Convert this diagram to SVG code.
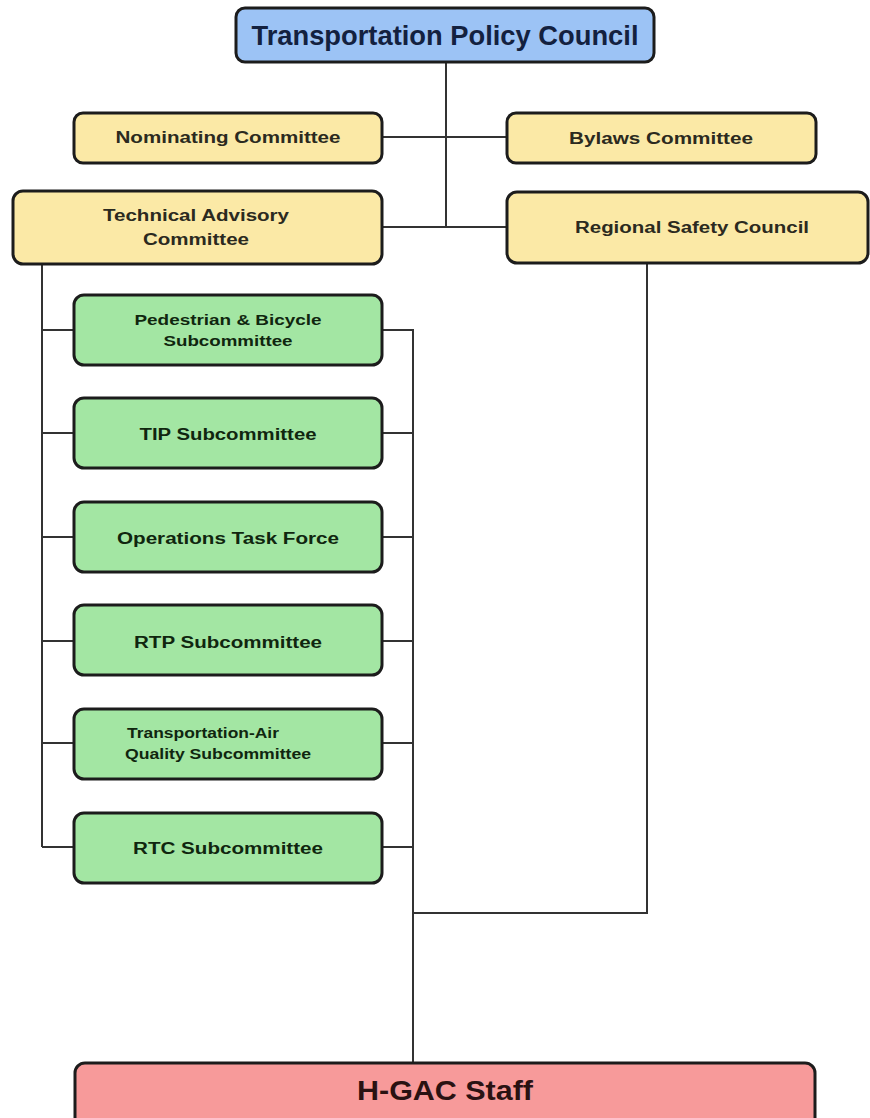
<svg xmlns="http://www.w3.org/2000/svg" width="870" height="1118" viewBox="0 0 870 1118">
<style>
.box{stroke:#1c1c1c;stroke-width:3}
.blue{fill:#9cc3f5}
.yel{fill:#fbe9a6}
.grn{fill:#a3e6a3}
.red{fill:#f79a9a}
.t{font-family:"Liberation Sans",Arial,sans-serif;font-weight:bold;text-anchor:middle}
.ty{fill:#2b2a20;font-size:16px}
.tg{fill:#10260f;font-size:16px}
.ts{fill:#10260f;font-size:14px}
.c{stroke:#333;stroke-width:2;fill:none}
</style>
<rect width="870" height="1118" fill="#ffffff"/>
<g id="connectors">
<path class="c" d="M446 62V227M382 137H507M382 227H507"/>
<path class="c" d="M42 264V847M42 330H74M42 433H74M42 537H74M42 641H74M42 743H74M42 847H74"/>
<path class="c" d="M382 330H413V1063M382 433H413M382 537H413M382 641H413M382 743H413M382 847H413"/>
<path class="c" d="M647 263V913H413"/>
</g>
<g id="tpc">
<rect class="box blue" x="236" y="8" width="418" height="54" rx="9"/>
<text class="t" x="445" y="45" font-size="27" fill="#13213f" textLength="387" lengthAdjust="spacingAndGlyphs">Transportation Policy Council</text>
</g>
<g id="nominating">
<rect class="box yel" x="74" y="113" width="308" height="50" rx="9"/>
<text class="t ty" x="228" y="143" textLength="225" lengthAdjust="spacingAndGlyphs">Nominating Committee</text>
</g>
<g id="bylaws">
<rect class="box yel" x="507" y="113" width="309" height="50" rx="9"/>
<text class="t ty" x="661" y="144" textLength="184" lengthAdjust="spacingAndGlyphs">Bylaws Committee</text>
</g>
<g id="tac">
<rect class="box yel" x="13" y="191" width="369" height="73" rx="10"/>
<text class="t ty" x="196" y="221" textLength="186" lengthAdjust="spacingAndGlyphs">Technical Advisory</text>
<text class="t ty" x="196" y="245" textLength="106" lengthAdjust="spacingAndGlyphs">Committee</text>
</g>
<g id="rsc">
<rect class="box yel" x="507" y="192" width="361" height="71" rx="10"/>
<text class="t ty" x="692" y="233" textLength="234" lengthAdjust="spacingAndGlyphs">Regional Safety Council</text>
</g>
<g id="ped">
<rect class="box grn" x="74" y="295" width="308" height="70" rx="10"/>
<text class="t ts" x="228" y="325" textLength="187" lengthAdjust="spacingAndGlyphs">Pedestrian &amp; Bicycle</text>
<text class="t ts" x="228" y="346" textLength="129" lengthAdjust="spacingAndGlyphs">Subcommittee</text>
</g>
<g id="tip">
<rect class="box grn" x="74" y="398" width="308" height="70" rx="10"/>
<text class="t tg" x="228" y="440" textLength="177" lengthAdjust="spacingAndGlyphs">TIP Subcommittee</text>
</g>
<g id="ops">
<rect class="box grn" x="74" y="502" width="308" height="70" rx="10"/>
<text class="t tg" x="228" y="544" textLength="222" lengthAdjust="spacingAndGlyphs">Operations Task Force</text>
</g>
<g id="rtp">
<rect class="box grn" x="74" y="605" width="308" height="70" rx="10"/>
<text class="t tg" x="228" y="648" textLength="188" lengthAdjust="spacingAndGlyphs">RTP Subcommittee</text>
</g>
<g id="taq">
<rect class="box grn" x="74" y="709" width="308" height="70" rx="10"/>
<text class="t ts" x="127" y="738" style="text-anchor:start" textLength="152" lengthAdjust="spacingAndGlyphs">Transportation-Air</text>
<text class="t ts" x="125" y="759" style="text-anchor:start" textLength="186" lengthAdjust="spacingAndGlyphs">Quality Subcommittee</text>
</g>
<g id="rtc">
<rect class="box grn" x="74" y="813" width="308" height="70" rx="10"/>
<text class="t tg" x="228" y="854" textLength="190" lengthAdjust="spacingAndGlyphs">RTC Subcommittee</text>
</g>
<g id="hgac">
<rect class="box red" x="75" y="1063" width="740" height="70" rx="10"/>
<text class="t" x="445" y="1100" font-size="28" fill="#2a1212" textLength="176" lengthAdjust="spacingAndGlyphs">H-GAC Staff</text>
</g>
</svg>
